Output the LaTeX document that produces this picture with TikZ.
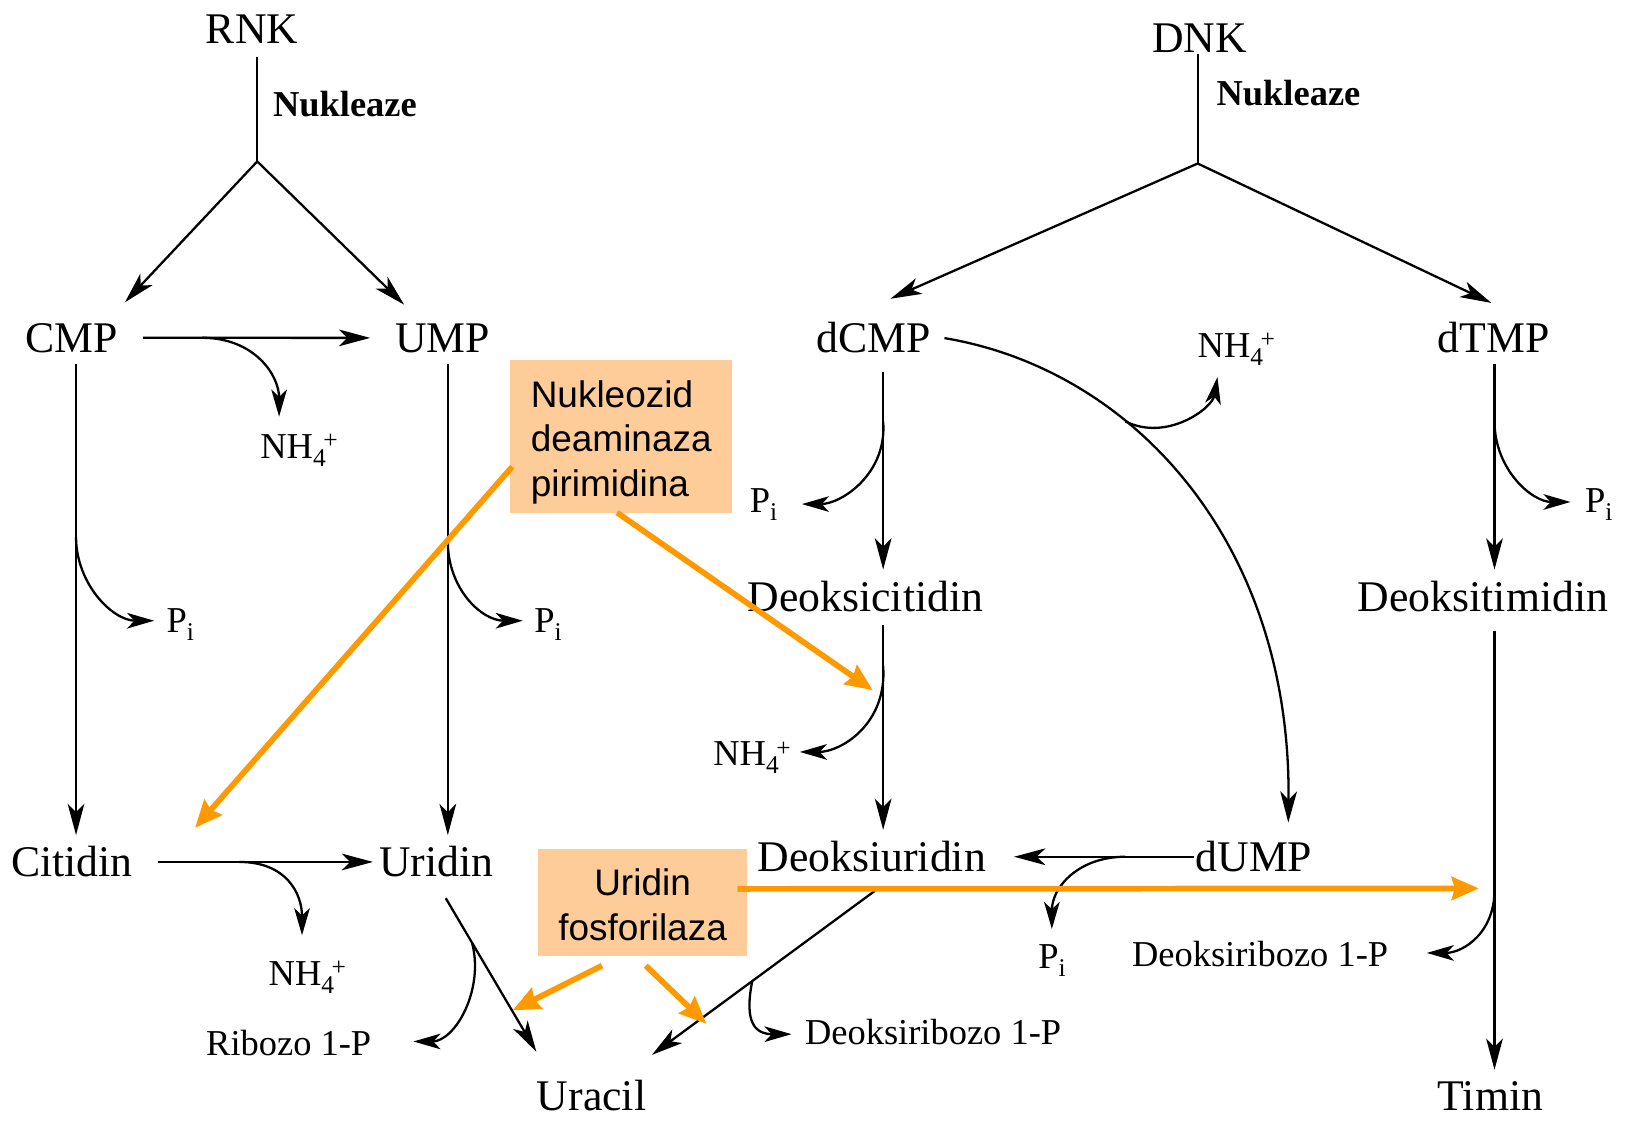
\documentclass[tikz,border=0pt]{standalone}
\usepackage{fontspec}
\setmainfont{Liberation Serif}
\newfontfamily\boxfont{Liberation Sans}
\usetikzlibrary{arrows.meta,calc}
\definecolor{peach}{RGB}{253,204,153}
\definecolor{orangeline}{RGB}{255,153,0}
\newcommand{\nhfour}{NH\textsubscript{4}\kern-.08em\textsuperscript{+}}
\newcommand{\phosi}{P\textsubscript{i}}

\begin{document}
\begin{tikzpicture}[x=1pt,y=-1pt,
  big/.style={font=\fontsize{42}{50}\selectfont, inner sep=0pt, outer xsep=24pt, outer ysep=11pt, anchor=base},
  small/.style={font=\fontsize{35}{41}\selectfont, inner sep=0pt, outer sep=0pt, anchor=base west},
  enz/.style={font=\fontsize{35}{42}\selectfont\bfseries, inner sep=0pt, anchor=base west},
  arr/.style={line width=2.2pt, -{Stealth[length=30pt,width=16pt,inset=8pt]}},
  plain/.style={line width=2.2pt},
  side/.style={line width=2.2pt, -{Stealth[length=26pt,width=15pt,inset=7pt]}},
  tag/.style={fill=peach, font=\boxfont\fontsize{35.5}{42.5}\selectfont, inner sep=0pt},
  oarr/.style={draw=orangeline, line width=5.5pt, -{Stealth[length=26pt,width=22pt,inset=3pt]}}
]
\fill[white] (0,0) rectangle (1568,1079);
\useasboundingbox (0,0) rectangle (1568,1079);

% metabolites
\node[big] (RNK) at (242,42) {RNK};
\node[big] (DNK) at (1152,50) {DNK};
\node[big] (CMP) at (69,338) {CMP};
\node[big] (UMP) at (425,338) {UMP};
\node[big] (dCMP) at (839,338) {dCMP};
\node[big] (dTMP) at (1434,338) {dTMP};
\node[big] (dCyd) at (831,587) {Deoksicitidin};
\node[big] (dThd) at (1424,587) {Deoksitimidin};
\node[big] (Cyd) at (69,842) {Citidin};
\node[big] (Urd) at (419,842) {Uridin};
\node[big] (dUrd) at (837,837) {Deoksiuridin};
\node[big] (dUMP) at (1204,837) {dUMP};
\node[big] (Ura) at (568,1066) {Uracil};
\node[big] (Thy) at (1431,1066) {Timin};

% enzymes
\node[enz] (nukL) at (262,112) {Nukleaze};
\node[enz] (nukR) at (1168,101) {Nukleaze};

% released products
\node[small] (nhA) at (1150,343) {\nhfour};
\node[small] (nhB) at (250,440) {\nhfour};
\node[small] (nhC) at (685,735) {\nhfour};
\node[small] (nhD) at (258,946) {\nhfour};
\node[small] (piA) at (720,492) {\phosi};
\node[small] (piB) at (1522,492) {\phosi};
\node[small] (piC) at (160,607) {\phosi};
\node[small] (piD) at (513,607) {\phosi};
\node[small] (piE) at (997,930) {\phosi};
\node[small] (dR1) at (1087,928) {Deoksiribozo 1-P};
\node[small] (dR2) at (773,1003) {Deoksiribozo 1-P};
\node[small] (Rib) at (198,1013) {Ribozo 1-P};

% nuclease branching
\coordinate (rj) at (247,155);
\coordinate (dj) at (1150,157);
\draw[plain] ($(RNK.south)+(5,2)$) -- (rj);
\draw[plain] ($(DNK.south)+(-2,-9)$) -- (dj);
\draw[arr] (rj) -- ($(CMP.north)+(51,-9)$);
\draw[arr] (rj) -- ($(UMP.north)+(-37,-7)$);
\draw[arr] (dj) -- ($(dCMP.north)+(16,-11)$);
\draw[arr] (dj) -- ($(dTMP.north)+(-2,-7)$);

% main reactions
\draw[arr] (CMP.east) -- (UMP.west) coordinate[pos=0.26] (b1);
\draw[arr] (Cyd.east) -- ($(Urd.west)+(18,0)$) coordinate[pos=0.38] (b9);
\draw[arr] ($(dUMP.west)+(22,0)$) -- ($(dUrd.east)+(3,0)$) coordinate[pos=0.38] (b12);
\draw[arr] ($(CMP.south)+(4,0)$) -- ($(Cyd.north)+(4,0)$) coordinate[pos=0.367] (b2);
\draw[arr] ($(UMP.south)+(5,0)$) -- ($(Urd.north)+(11,0)$) coordinate[pos=0.377] (b3);
\draw[arr] ($(dCMP.south)+(9,8)$) -- ($(dCyd.north)+(17,0)$) coordinate[pos=0.25] (b4);
\draw[arr] ($(dTMP.south)+(1,0)$) -- ($(dThd.north)+(11,0)$) coordinate[pos=0.28] (b5);
\draw[arr] ($(dCyd.south)+(17,2)$) -- ($(dUrd.north)+(11,0)$) coordinate[pos=0.2] (b6);
\draw[arr] ($(dThd.south)+(11,7)$) -- ($(Thy.north)+(4,0)$) coordinate[pos=0.58] (b8);
\draw[arr] ($(Urd.south)+(9,9)$) -- ($(Ura.north)+(-53,-16)$) coordinate[pos=0.29] (b10);
\draw[arr] ($(dUrd.south)+(3,7)$) -- ($(Ura.north)+(58,-13)$) coordinate[pos=0.55] (b11);
\draw[arr] ($(dCMP.east)+(-11,1)$) .. controls +(180,30) and +(3,-270) .. ($(dUMP.north)+(33,-7)$) coordinate[pos=0.35] (b7);

% side products
\draw[side] (b1) .. controls +(50,0) and +(0,-40) .. ($(nhB.base west)+(18,-40)$);
\draw[side] (b2) .. controls +(0,45) and +(-40,0) .. ($(piC.base west)+(-12,-11)$);
\draw[side] (b3) .. controls +(0,45) and +(-40,0) .. ($(piD.base west)+(-11,-11)$);
\draw[side] (b4) .. controls +(4,50) and +(38,0) .. ($(piA.base west)+(50,-8)$);
\draw[side] (b5) .. controls +(0,45) and +(-38,0) .. ($(piB.base west)+(-14,-10)$);
\draw[side] (b6) .. controls +(4,55) and +(40,0) .. ($(nhC.base west)+(83,-13)$);
\draw[side] (b7) .. controls +(40,20) and +(-5,30) .. ($(nhA.base west)+(19,19)$);
\draw[side] (b8) .. controls +(2,45) and +(35,0) .. ($(dR1.base west)+(283,-13)$);
\draw[side] (b9) .. controls +(45,0) and +(0,-40) .. ($(nhD.base west)+(32,-48)$);
\draw[side] (b10) .. controls +(12,45) and +(40,0) .. ($(Rib.base west)+(199,-13)$);
\draw[side] (b11) .. controls +(-8,40) and +(-35,0) .. ($(dR2.base west)+(-13,-10)$);
\draw[side] (b12) .. controls +(-45,0) and +(0,-40) .. ($(piE.base west)+(13,-38)$);

% enzyme tags
\node[tag, minimum width=213pt, minimum height=147pt, align=left] (ob1) at (596.5,419.5) {\rule{0pt}{36pt}Nukleozid\\deaminaza\\pirimidina};
\node[tag, minimum width=200pt, minimum height=103pt, align=center] (ob2) at (617,866.5) {\rule{0pt}{30pt}Uridin\\fosforilaza};

\draw[oarr] ($(ob1.south west)+(2,-45)$) -- ($(Cyd.north east)+(36,-7)$);
\draw[oarr] ($(ob1.south)+(-4,-1)$) -- ($(b6)+(-10,23)$);
\draw[oarr] ($(ob2.east)+(-9,-13)$) -- ($(b8)+(-15,3)$);
\draw[oarr] ($(ob2.south)+(-39,9)$) -- ($(b10)+(39,65)$);
\draw[oarr] ($(ob2.south)+(3,9)$) -- ($(b11)+(-44,41)$);
\end{tikzpicture}
\end{document}
